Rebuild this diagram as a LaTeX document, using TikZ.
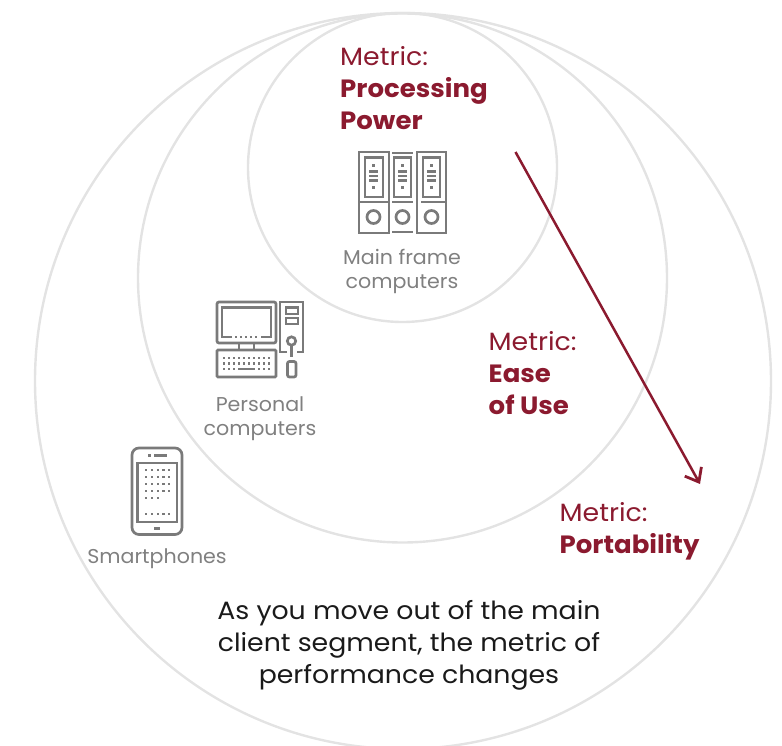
\documentclass[tikz,border=0pt]{standalone}
\usepackage{fontspec}
\setmainfont[FakeStretch=1.07,BoldFeatures={FakeStretch=1.04}]{Poppins}
\newfontfamily\capfont[FakeStretch=1.03]{Poppins}
\usetikzlibrary{arrows.meta}
\definecolor{wine}{HTML}{8B1A2F}
\definecolor{ring}{HTML}{E3E3E3}
\definecolor{icon}{HTML}{7A7A7A}
\definecolor{cap}{HTML}{808080}
\definecolor{ink}{HTML}{1A1A1A}
\tikzset{
  ringc/.style={draw=ring,line width=2.4pt},
  iconl/.style={draw=icon,line width=2.7pt},
  icond/.style={fill=icon},
  metric/.style={text=wine,inner sep=0pt,anchor=north west,align=left,font=\fontsize{25}{32}\selectfont},
  capt/.style={text=cap,inner sep=0pt,anchor=north,align=center,font=\capfont\fontsize{20}{24}\selectfont},
  note/.style={text=ink,inner sep=0pt,anchor=north,align=center,font=\fontsize{25}{32}\selectfont},
}
\newcommand{\bfm}[1]{{\bfseries #1}}
\begin{document}
\begin{tikzpicture}[x=1pt,y=-1pt]
\useasboundingbox (0,0) rectangle (782,746);
\clip (0,0) rectangle (782,746);
% rings
\node[ringc,circle,minimum size=736pt,inner sep=0pt] (outer) at (403,381) {};
\node[ringc,circle,minimum size=529pt,inner sep=0pt] (middle) at (402.5,278) {};
\node[ringc,circle,minimum size=309pt,inner sep=0pt] (inner) at (402.5,167.5) {};
% labels
\node[metric] (m1) at (340,46.5) {Metric:\\\bfm{Processing}\\\bfm{Power}};
\node[metric] (m2) at (488.5,331.5) {Metric:\\\bfm{Ease}\\\bfm{of Use}};
\node[metric] (m3) at (559.5,502.5) {Metric:\\\bfm{Portability}};
\node[capt] (c1) at (402,249.5) {Main frame\\computers};
\node[capt] (c2) at (260,396.5) {Personal\\computers};
\node[capt] (c3) at (157,548.5) {Smartphones};
\node[note] (n) at (409,600.5) {As you move out of the main\\client segment, the metric of\\performance changes};
% arrow
\coordinate (a1) at (515.5,152);
\coordinate (a2) at (700,484);
\draw[wine,line width=2.5pt,-{Straight Barb[length=12pt,width=19pt,line width=2.8pt]}] (a1) -- (a2);
% mainframe icon
\draw[iconl] (389,202) -- (389,152) -- (359,152) -- (359,233) -- (389,233) -- (389,202) -- (359,202);
\draw[iconl] (365,157.5) rectangle (383,197);
\draw[iconl] (373.5,217) circle (6.5);
\draw[iconl] (392,153) -- (413,153) (392,202) -- (413,202) (392,232) -- (413,232);
\draw[iconl] (394,157.5) rectangle (411,197);
\draw[iconl] (402.5,217) circle (6.5);
\draw[iconl] (446,202) -- (446,152) -- (417,152) -- (417,233) -- (446,233) -- (446,202) -- (421,202);
\draw[iconl] (423,157.5) rectangle (440,197);
\draw[iconl] (431.5,217) circle (6.5);
\foreach \x in {373.5,402.5,431.5}{
  \fill[icond] (\x-1.4,164) rectangle (\x+1.4,166.8);
  \fill[icond] (\x-1.4,186.5) rectangle (\x+1.4,189.3);
  \foreach \y in {170.5,175,179.5}{\fill[icond] (\x-4.2,\y) rectangle (\x+4.2,\y+2.2);}
}
% PC icon
\draw[iconl,rounded corners=2pt] (217,302) rectangle (276,343);
\draw[iconl] (232,337) -- (222,337) -- (222,307.5) -- (271,307.5) -- (271,337) -- (261,337);
\foreach \x in {236,241,246,251,256}{\fill[icond] (\x-1.3,335.9) rectangle (\x+1.3,338.1);}
\draw[iconl] (239,343) -- (239,350) (254,343) -- (254,350);
\draw[iconl,rounded corners=1pt] (217,350) rectangle (276,377);
\foreach \x in {224,229,234,239,244,249,254,259,264,269}{
  \fill[icond] (\x-1.3,356.9) rectangle (\x+1.3,359.1);
  \fill[icond] (\x-1.3,362.4) rectangle (\x+1.3,364.6);
}
\foreach \x in {224,229,234,259,264,269}{\fill[icond] (\x-1.3,367.9) rectangle (\x+1.3,370.1);}
\fill[icond] (238,367.9) rectangle (255,370.1);
\draw[iconl] (287,352) -- (280,352) -- (280,302) -- (303,302) -- (303,352) -- (297,352);
\draw[iconl] (286,307.5) rectangle (298,314);
\draw[iconl] (286,318) rectangle (298,324);
\draw[iconl] (291.5,341) circle (4.2);
\draw[iconl] (291.5,345) -- (291.5,357);
\draw[iconl,rounded corners=2pt] (287.5,361.5) rectangle (296,377);
% phone icon
\draw[iconl,rounded corners=7pt] (132,448) rectangle (182,534.5);
\draw[iconl] (137.5,463) rectangle (177,522);
\fill[icond] (148,453.8) rectangle (151.4,457.2);
\fill[icond] (153.5,454.2) rectangle (167,456.8);
\fill[icond] (154,527) rectangle (160,529.7);
\foreach \y in {470,477,484,491}{\foreach \x in {146,152,158,163.5,169}{\fill[icond] (\x-1.25,\y-1.25) rectangle (\x+1.25,\y+1.25);}}
\foreach \x in {146,152,158}{\fill[icond] (\x-1.25,496.75) rectangle (\x+1.25,499.25);}
\foreach \x in {146,152,158,163.5,169}{\fill[icond] (\x-1.25,512.75) rectangle (\x+1.25,515.25);}
\end{tikzpicture}
\end{document}
